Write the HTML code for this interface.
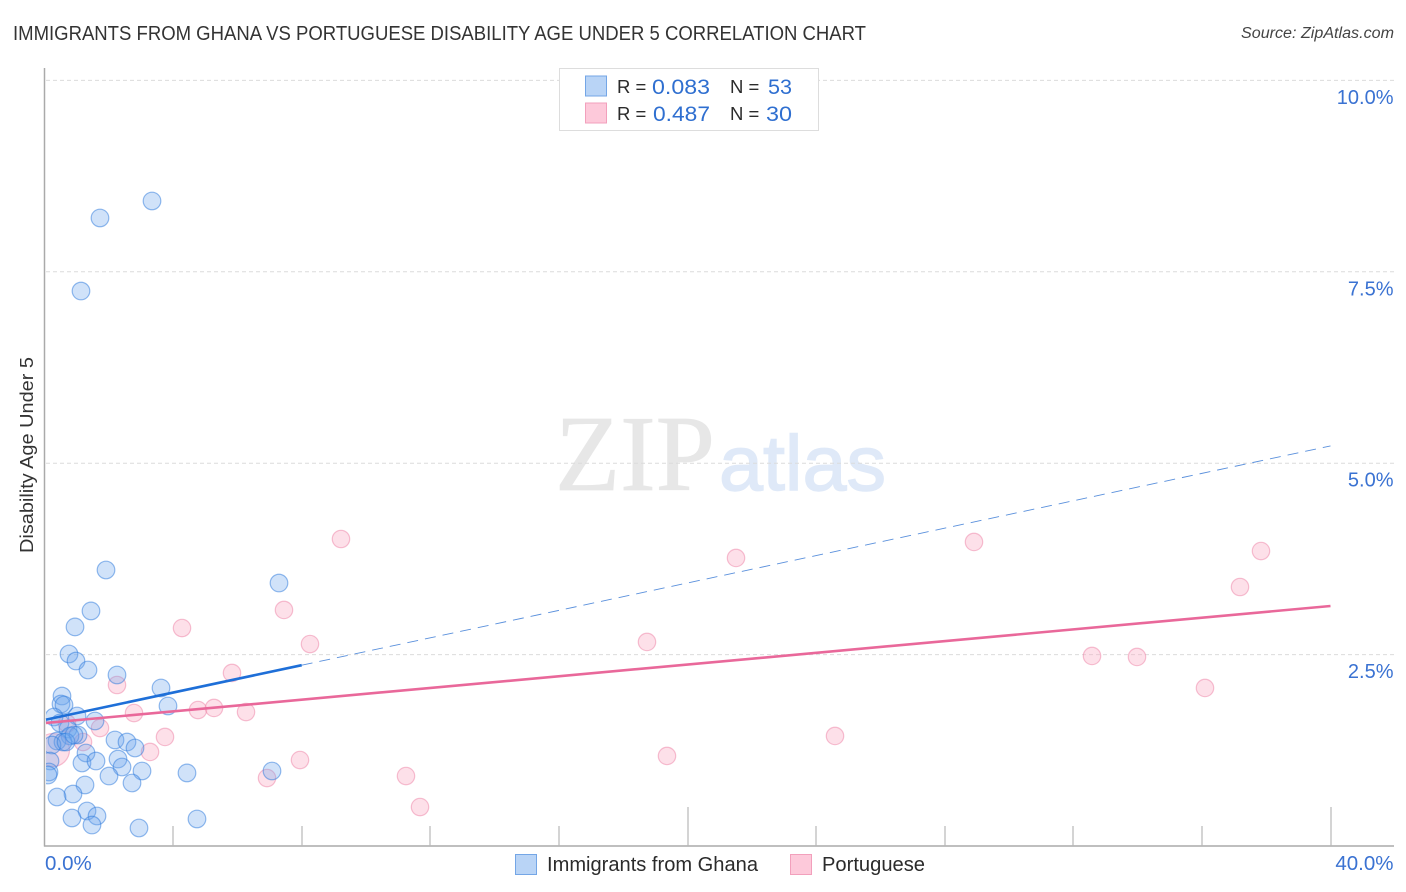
<!DOCTYPE html>
<html lang="en">
<head>
<meta charset="utf-8">
<title>Immigrants from Ghana vs Portuguese Disability Age Under 5 Correlation Chart</title>
<style>
html,body{margin:0;padding:0;background:#fff}
svg{display:block}
text{font-family:"Liberation Sans",sans-serif}
</style>
</head>
<body>
<svg id="chart" xmlns="http://www.w3.org/2000/svg" width="1406" height="892" viewBox="0 0 1406 892">
  <defs>
    <clipPath id="plot-clip"><rect x="46" y="60" width="1350" height="786"/></clipPath>
  </defs>
  <rect x="0" y="0" width="1406" height="892" fill="#fff"/>
  <text x="13" y="40" font-size="20" fill="#333" textLength="853" lengthAdjust="spacingAndGlyphs">IMMIGRANTS FROM GHANA VS PORTUGUESE DISABILITY AGE UNDER 5 CORRELATION CHART</text>
  <text x="1394" y="38" font-size="15.5" font-style="italic" fill="#444" text-anchor="end" textLength="153" lengthAdjust="spacingAndGlyphs">Source: ZipAtlas.com</text>

  <g>
    <text x="555" y="490" font-size="108" fill="#e7e7e7" stroke="#e7e7e7" stroke-width="0.8" textLength="160" lengthAdjust="spacingAndGlyphs" style="font-family:'Liberation Serif',serif">ZIP</text>
    <text x="719" y="490" font-size="78" fill="#dfe9f8" stroke="#dfe9f8" stroke-width="1.4" textLength="167" lengthAdjust="spacingAndGlyphs">atlas</text>
  </g>

  <g id="grid"></g>
  <g id="axes"></g>
  <g id="points-pink" clip-path="url(#plot-clip)"></g>
  <g id="points-blue" clip-path="url(#plot-clip)"></g>
  <g id="trends"></g>
  <g id="labels"></g>

  <text transform="translate(33,455) rotate(-90)" font-size="18" fill="#333" text-anchor="middle" textLength="196" lengthAdjust="spacingAndGlyphs">Disability Age Under 5</text>

  <g>
    <rect x="559.5" y="68.5" width="259" height="62" fill="#fff" stroke="#ddd" stroke-width="1"/>
    <rect x="585.5" y="76" width="21" height="20" fill="#b9d4f6" stroke="#74a6e6" stroke-width="1"/>
    <rect x="585.5" y="103" width="21" height="20" fill="#fdc9da" stroke="#f2a0bc" stroke-width="1"/>
    <text x="617" y="93" font-size="18.5" fill="#2b2b2b">R =</text>
    <text x="652" y="94" font-size="21" fill="#2f6fd0" textLength="58" lengthAdjust="spacingAndGlyphs">0.083</text>
    <text x="730" y="93" font-size="18.5" fill="#2b2b2b">N =</text>
    <text x="768" y="94" font-size="21" fill="#2f6fd0" textLength="24" lengthAdjust="spacingAndGlyphs">53</text>
    <text x="617" y="120" font-size="18.5" fill="#2b2b2b">R =</text>
    <text x="653" y="121" font-size="21" fill="#2f6fd0" textLength="57" lengthAdjust="spacingAndGlyphs">0.487</text>
    <text x="730" y="120" font-size="18.5" fill="#2b2b2b">N =</text>
    <text x="766" y="121" font-size="21" fill="#2f6fd0" textLength="26" lengthAdjust="spacingAndGlyphs">30</text>
  </g>

  <g>
    <rect x="515.5" y="854.5" width="21" height="20" fill="#b9d4f6" stroke="#74a6e6" stroke-width="1"/>
    <text x="547" y="871" font-size="20" fill="#2b2b2b" textLength="211" lengthAdjust="spacingAndGlyphs">Immigrants from Ghana</text>
    <rect x="790.5" y="854.5" width="21" height="20" fill="#fdc9da" stroke="#f2a0bc" stroke-width="1"/>
    <text x="822" y="871" font-size="20" fill="#2b2b2b" textLength="103" lengthAdjust="spacingAndGlyphs">Portuguese</text>
  </g>
</svg>
<script>
const yTickValues = [2.5, 5, 7.5, 10];
const yTickLabels = ["2.5%", "5.0%", "7.5%", "10.0%"];
const xTickValues = [4, 8, 12, 16, 20, 24, 28, 32, 36, 40];
const xTickMajor = [false, false, false, false, true, false, false, false, false, true];
const xEndValues = [0, 40];
const xEndLabels = ["0.0%", "40.0%"];

const ghanaX = [3.344,1.726,1.135,1.913,7.294,1.446,0.949,0.762,0.980,1.353,2.255,3.624,0.544,0.513,0.607,3.841,0.295,1.011,1.571,0.482,0.731,1.042,0.793,0.389,0.575,0.233,2.193,2.566,2.815,1.291,2.286,0.171,1.166,1.602,2.411,3.033,4.432,7.076,0.140,0.109,2.006,2.722,1.260,0.886,0.389,1.322,0.855,1.633,4.743,1.477,2.939,0.669,0.918];
const ghanaY = [8.425,8.203,7.249,3.605,3.435,3.070,2.861,2.508,2.416,2.299,2.234,2.064,1.959,1.855,1.842,1.829,1.685,1.698,1.633,1.607,1.528,1.450,1.437,1.371,1.358,1.319,1.385,1.358,1.280,1.215,1.136,1.110,1.084,1.110,1.032,0.980,0.954,0.980,0.967,0.927,0.914,0.823,0.797,0.679,0.640,0.457,0.366,0.392,0.353,0.274,0.235,1.358,1.450];

const portugueseX = [9.222,28.911,21.509,37.838,37.185,7.449,4.277,8.258,18.740,5.832,2.255,32.582,33.981,36.096,2.784,4.774,5.272,6.268,1.726,3.748,24.588,1.198,3.282,19.362,7.947,6.921,11.244,11.680,0.264,0.700];
const portugueseY = [4.010,3.971,3.762,3.853,3.383,3.083,2.847,2.638,2.665,2.260,2.103,2.482,2.469,2.064,1.737,1.776,1.803,1.750,1.541,1.424,1.437,1.358,1.228,1.176,1.123,0.888,0.914,0.509,1.254,1.600];
const portugueseWeight = [1,1,1,1,1,1,1,1,1,1,1,1,1,1,1,1,1,1,1,1,1,1,1,1,1,1,1,1,3.6,1];

const ghanaTrendEnds = [1.646, 5.225];
const ghanaSolidUntil = 8;
const portugueseTrendEnds = [1.607, 3.135];

const SVGNS = "http://www.w3.org/2000/svg";
function xScale(v) { return 44.5 + v * 32.15; }
function yScale(v) { return 846 - v * 76.56; }
function make(tag, parent, attrs) {
  const el = document.createElementNS(SVGNS, tag);
  for (const k in attrs) el.setAttribute(k, attrs[k]);
  parent.appendChild(el);
  return el;
}

const grid = document.getElementById("grid");
const axes = document.getElementById("axes");
const labels = document.getElementById("labels");
const pointsBlue = document.getElementById("points-blue");
const pointsPink = document.getElementById("points-pink");
const trends = document.getElementById("trends");

yTickValues.forEach(function (v, i) {
  const line = make("line", grid, {x1: 46, x2: 1394, y1: yScale(v), y2: yScale(v), stroke: "#dcdcdc", "stroke-width": 1, "stroke-dasharray": "4 3"});
  
  
  const label = make("text", labels, {x: 1393.5, y: yScale(v) + 23.5, "font-size": 20, fill: "#3a72d2", "text-anchor": "end"});
  label.textContent = yTickLabels[i];
  
  
});

const yAxisLine = make("line", axes, {x1: 44.5, x2: 44.5, y1: 68, y2: 846.5, stroke: "#aaa", "stroke-width": 1.5});


const xAxisLine = make("line", axes, {x1: 44, x2: 1394, y1: 846, y2: 846, stroke: "#aaa", "stroke-width": 1.5});



xTickValues.forEach(function (v, i) {
  const x = Math.round(xScale(v)) + 0.5;
  const tick = make("line", axes, {x1: x - 0.5, x2: x - 0.5, y1: xTickMajor[i] ? 807 : 826, y2: 846, stroke: "#b8b8b8", "stroke-width": 1.2});
  
  
});

xEndValues.forEach(function (v, i) {
  const label = make("text", labels, {x: i === 0 ? xScale(v) + 0.5 : 1393.5, y: 870, "font-size": 20.5, fill: "#3a72d2", "text-anchor": i === 0 ? "start" : "end"});
  label.textContent = xEndLabels[i];
  
  
});

portugueseX.forEach(function (v, i) {
  const c = make("circle", pointsPink, {cx: xScale(v), cy: yScale(portugueseY[i]), r: 8.7 * Math.sqrt(portugueseWeight[i]), fill: "rgba(250,170,195,0.36)", stroke: "rgba(238,130,165,0.5)", "stroke-width": 1.2});
  
  
});

ghanaX.forEach(function (v, i) {
  const c = make("circle", pointsBlue, {cx: xScale(v), cy: yScale(ghanaY[i]), r: 8.8, fill: "rgba(110,165,235,0.32)", stroke: "rgba(50,125,220,0.52)", "stroke-width": 1.2});
  
  
});

function ghanaTrendAt(v) { return ghanaTrendEnds[0] + (ghanaTrendEnds[1] - ghanaTrendEnds[0]) * v / 40; }

const ghanaDash = make("line", trends, {x1: xScale(ghanaSolidUntil), y1: yScale(ghanaTrendAt(ghanaSolidUntil)), x2: xScale(40), y2: yScale(ghanaTrendEnds[1]), stroke: "#5a90dc", "stroke-width": 0.9, "stroke-dasharray": "11 7"});


const ghanaSolid = make("line", trends, {x1: 46, y1: yScale(ghanaTrendAt(0.05)), x2: xScale(ghanaSolidUntil), y2: yScale(ghanaTrendAt(ghanaSolidUntil)), stroke: "#1e6fd8", "stroke-width": 2.6});


const portugueseLine = make("line", trends, {x1: 46, y1: yScale(portugueseTrendEnds[0]), x2: xScale(40), y2: yScale(portugueseTrendEnds[1]), stroke: "#e9689a", "stroke-width": 2.6});


</script>
</body>
</html>
